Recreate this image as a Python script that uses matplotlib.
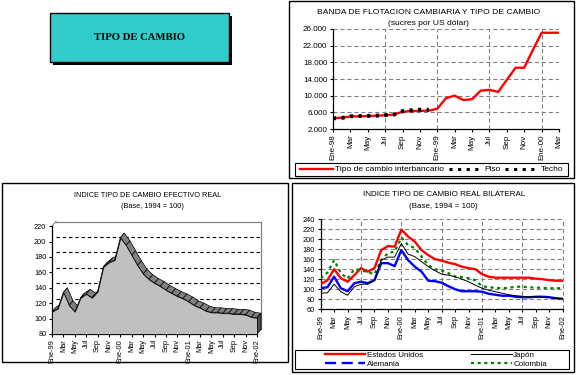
import numpy as np
import matplotlib
matplotlib.use('Agg')
import matplotlib.pyplot as plt
from matplotlib.patches import Rectangle, Polygon
from matplotlib.lines import Line2D

plt.rcParams['font.family'] = ['Liberation Sans', 'DejaVu Sans']
plt.rcParams['lines.scale_dashes'] = False

W, H = 577, 375

# ---------------- datos ----------------
# Banda de flotacion (mensual, Ene-98 .. Mar-00)
tc_interbancario = [4640, 4700, 5000, 5040, 5100, 5200, 5300, 5450, 6150, 6300, 6350, 6400,
                    6850, 9400, 10000, 8950, 9150, 11200, 11400, 10900, 13800, 16700, 16700,
                    21000, 25100, 25100, 25100]
piso = [4450, 4550, 4950, 5000, 5050, 5100, 5250, 5350, 6150, 6350, 6500, 6500]
techo = [4650, 4750, 5150, 5200, 5250, 5300, 5450, 5550, 6400, 6600, 6750, 6750]
ticks_banda = ['Ene-98', 'Mar', 'May', 'Jul', 'Sep', 'Nov', 'Ene-99', 'Mar', 'May', 'Jul',
               'Sep', 'Nov', 'Ene-00', 'Mar']

# Indice tipo de cambio efectivo real (mensual, Ene-99 .. Ene-02)
itcer = [109, 113, 134, 117, 109, 127, 132, 127, 135, 167, 173, 176, 205, 195, 182, 169,
         158, 151, 146, 142, 137, 133, 129, 126, 122, 117, 114, 110, 108, 108, 107, 107,
         106, 106, 105, 102, 101]

# Indice tipo de cambio real bilateral (mensual, Ene-99 .. Ene-02)
estados_unidos = [110, 118, 140, 122, 115, 128, 142, 135, 142, 178, 186, 185, 219, 205, 195,
                  178, 168, 160, 157, 153, 150, 145, 142, 140, 130, 125, 123, 123, 123, 123,
                  123, 123, 121, 120, 118, 117, 117]
japon = [92, 93, 110, 95, 88, 105, 110, 110, 118, 158, 164, 164, 191, 170, 165, 155, 145,
         137, 130, 128, 125, 120, 115, 108, 102, 98, 95, 92, 89, 87, 86, 85, 85, 84, 84, 82, 81]
alemania = [102, 104, 125, 102, 96, 112, 115, 112, 118, 152, 152, 146, 178, 158, 145, 135,
            117, 116, 113, 106, 100, 96, 96, 96, 95, 91, 89, 87, 87, 85, 84, 84, 85, 85, 84,
            82, 81]
colombia = [122, 133, 158, 132, 121, 140, 138, 134, 130, 158, 172, 175, 203, 188, 182, 165,
            148, 140, 137, 132, 125, 124, 122, 118, 106, 104, 103, 102, 103, 105, 105, 104,
            103, 103, 102, 102, 102]
ticks_indices = ['Ene-99', 'Mar', 'May', 'Jul', 'Sep', 'Nov', 'Ene-00', 'Mar', 'May', 'Jul',
                 'Sep', 'Nov', 'Ene-01', 'Mar', 'May', 'Jul', 'Sep', 'Nov', 'Ene-02']


def box(x0, y0, x1, y1):
    """pixeles (origen arriba-izq) -> [left, bottom, width, height] en fraccion"""
    return [x0 / W, 1 - y1 / H, (x1 - x0) / W, (y1 - y0) / H]


def frame(fig, x0, y0, x1, y1, **kw):
    b = box(x0, y0, x1, y1)
    r = Rectangle((b[0], b[1]), b[2], b[3], transform=fig.transFigure, fill=False,
                  ec='black', lw=kw.pop('lw', 1.0), **kw)
    fig.add_artist(r)
    return r


def ftext(fig, x, y, s, **kw):
    fig.text(x / W, 1 - y / H, s, ha='center', va='center', **kw)


def style_axes(ax, fs):
    for s in ('top', 'right'):
        ax.spines[s].set_visible(False)
    for s in ('left', 'bottom'):
        ax.spines[s].set_linewidth(0.9)
    ax.tick_params(labelsize=fs, length=2.5, width=0.8, pad=1.5)
    ax.tick_params(axis='x', labelrotation=90)


fig = plt.figure(figsize=(W / 100, H / 100), dpi=100, facecolor='white')

# ---------------- recuadro titulo ----------------
sh = box(53, 16, 232, 65)
fig.add_artist(Rectangle((sh[0], sh[1]), sh[2], sh[3], transform=fig.transFigure,
                         fc='black', ec='black', lw=0))
tb = box(50, 13, 229, 62)
fig.add_artist(Rectangle((tb[0], tb[1]), tb[2], tb[3], transform=fig.transFigure,
                         fc='#33CCCC', ec='black', lw=1.0))
ftext(fig, 139.5, 38, 'TIPO DE CAMBIO', family='Liberation Serif', fontweight='bold',
      fontsize=7.7)

# ---------------- Banda de flotacion ----------------
frame(fig, 289, 1, 574, 178)
ax1 = fig.add_axes(box(333, 29, 559, 129))
style_axes(ax1, 5.8)
ftext(fig, 429, 13, 'BANDA DE FLOTACION CAMBIARIA Y TIPO DE CAMBIO', fontsize=6.1)
ftext(fig, 428, 23.5, '(sucres por US dólar)', fontsize=6.1)

x_tc = np.arange(len(tc_interbancario))
l_tc, = ax1.plot(x_tc, tc_interbancario, color='red', lw=1.7, zorder=4,
                 label='Tipo de cambio interbancario')
l_p, = ax1.plot(np.arange(len(piso)), piso, color='black', lw=2.2, dashes=(2.2, 4.0),
                zorder=5, label='Piso')
l_t, = ax1.plot(np.arange(len(techo)), techo, color='black', lw=2.2, dashes=(2.2, 4.0),
                zorder=5, label='Techo')
ax1.set_xlim(0, len(tc_interbancario) - 1)
ax1.set_ylim(2000, 26000)
yt = np.arange(2000, 26001, 4000)
ax1.set_yticks(yt)
ax1.set_yticklabels([f'{v:,}'.replace(',', '.') for v in yt])
ax1.set_xticks(np.arange(0, len(tc_interbancario), 2))
ax1.set_xticklabels(ticks_banda)
for v in yt[1:]:
    ax1.axhline(v, color='#808080', lw=0.8, dashes=(3, 2), zorder=1)
for v in range(6, len(tc_interbancario), 6):
    ax1.axvline(v, color='#808080', lw=0.8, dashes=(3, 2), zorder=1)

frame(fig, 295, 163, 568, 176, lw=0.8)
lb = box(295, 163, 568, 176)
fig.legend(handles=[l_tc, l_p, l_t], loc='center',
           bbox_to_anchor=(lb[0] + lb[2] / 2, lb[1] + lb[3] / 2), ncol=3, frameon=False,
           fontsize=6.0, handlelength=4.0, handletextpad=0.3, columnspacing=0.5,
           borderpad=0, borderaxespad=0)

# ---------------- Indice efectivo real (3D) ----------------
frame(fig, 2, 183, 288, 362)
ftext(fig, 148, 195.7, 'INDICE TIPO DE CAMBIO EFECTIVO REAL', fontsize=5.3)
ftext(fig, 152, 206.7, '(Base, 1994 = 100)', fontsize=5.3)

dx, dy = 0.7, 6
n = len(itcer)
ax2 = fig.add_axes(box(52, 221.5, 52 + (n - 1 + dx) * (205 / (n - 1)), 334))
style_axes(ax2, 5.3)
ax2.tick_params(axis='x', pad=1)
ax2.set_xlim(0, n - 1 + dx)
ax2.set_ylim(80, 220 + dy)
ax2.spines['left'].set_bounds(80, 220)
ax2.spines['bottom'].set_bounds(0, n - 1)
ax2.set_yticks(np.arange(80, 221, 20))
ax2.set_xticks(np.arange(0, n, 2))
ax2.set_xticklabels(ticks_indices)

# pared de fondo
ax2.plot([dx, n - 1 + dx, n - 1 + dx], [220 + dy, 220 + dy, 80 + dy], color='#808080',
         lw=0.9, zorder=0, clip_on=False)
ax2.plot([0, dx], [220, 220 + dy], color='#808080', lw=0.8, zorder=0, clip_on=False)
for v in range(100, 201, 20):
    ax2.plot([dx, n - 1 + dx], [v + dy, v + dy], color='black', lw=0.8, dashes=(2.5, 2),
             zorder=0)

x2 = np.arange(n)
for i in range(n - 1):
    quad = [(x2[i], itcer[i]), (x2[i + 1], itcer[i + 1]),
            (x2[i + 1] + dx, itcer[i + 1] + dy), (x2[i] + dx, itcer[i] + dy)]
    ax2.add_patch(Polygon(quad, closed=True, fc='#808080', ec='black', lw=0.5, zorder=2))
cap = [(x2[-1], 80), (x2[-1], itcer[-1]), (x2[-1] + dx, itcer[-1] + dy), (x2[-1] + dx, 80 + dy)]
ax2.add_patch(Polygon(cap, closed=True, fc='#505050', ec='black', lw=0.6, zorder=2,
                      clip_on=False))
ax2.fill_between(x2, 80, itcer, fc='#C0C0C0', ec='black', lw=0.6, zorder=3)

# ---------------- Indice real bilateral ----------------
frame(fig, 292, 183, 574, 372)
ftext(fig, 444, 195, 'INDICE TIPO DE CAMBIO REAL BILATERAL', fontsize=5.8)
ftext(fig, 443, 206, '(Base, 1994 = 100)', fontsize=5.8)

ax3 = fig.add_axes(box(320.7, 219, 562.7, 309.3))
style_axes(ax3, 5.3)
xb = np.arange(len(estados_unidos))
ax3.set_xlim(0, len(estados_unidos) - 1)
ax3.set_ylim(60, 240)
ax3.set_yticks(np.arange(60, 241, 20))
ax3.set_xticks(np.arange(0, len(estados_unidos), 2))
ax3.set_xticklabels(ticks_indices)
for v in range(80, 241, 20):
    ax3.axhline(v, color='#808080', lw=0.8, dashes=(3, 2), zorder=1)
for v in range(6, len(estados_unidos), 6):
    ax3.axvline(v, color='#808080', lw=0.8, dashes=(3, 2), zorder=1, clip_on=False)

l_eu, = ax3.plot(xb, estados_unidos, color='red', lw=1.7, zorder=4, label='Estados Unidos')
ax3.plot(xb, alemania, color='blue', lw=1.7, zorder=3)
l_jp, = ax3.plot(xb, japon, color='black', lw=0.7, zorder=5, label='Japón')
l_co, = ax3.plot(xb, colombia, color='green', lw=1.6, dashes=(2.2, 2.6), zorder=4,
                 label='Colombia')
l_al = Line2D([], [], color='blue', lw=1.7, dashes=(8, 4), label='Alemania')

frame(fig, 295, 350, 569, 369, lw=0.8)
lb = box(295, 350, 569, 369)
fig.legend(handles=[l_eu, l_al, l_jp, l_co], loc='center',
           bbox_to_anchor=(lb[0] + lb[2] / 2 + 4 / W, lb[1] + lb[3] / 2), ncol=2,
           frameon=False, fontsize=5.8, handlelength=5.0, handletextpad=0.2,
           columnspacing=6.0, labelspacing=0.2, borderpad=0, borderaxespad=0)

fig.savefig('out.png', dpi=100, facecolor='white')
